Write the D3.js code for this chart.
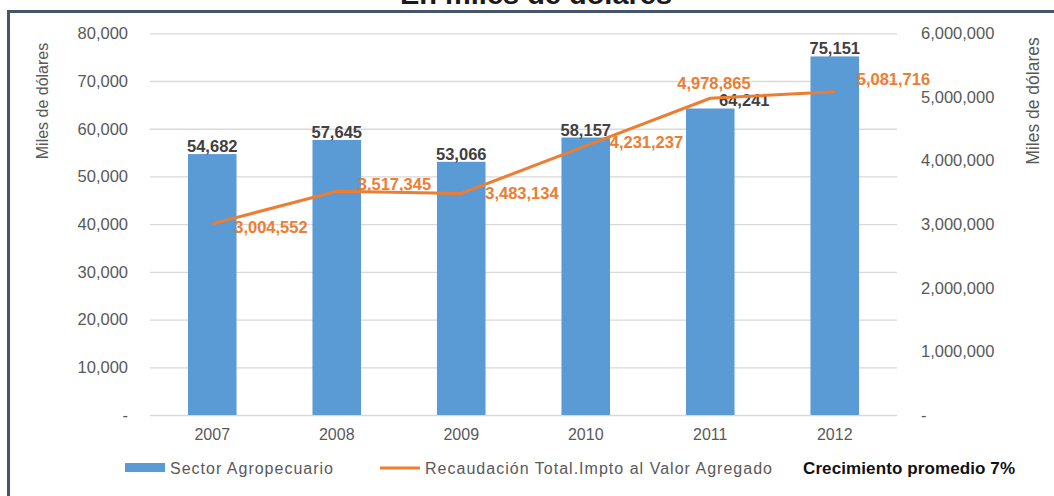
<!DOCTYPE html>
<html>
<head>
<meta charset="utf-8">
<script src="https://cdn.jsdelivr.net/npm/d3@7"></script>
<style>
  html, body { margin: 0; padding: 0; background: #fff; }
  svg { display: block; }
  text { font-family: "Liberation Sans", Arial, sans-serif; }
</style>
</head>
<body>
<svg id="chart" width="1054" height="496"></svg>
<script>
// Data
const years = ["2007", "2008", "2009", "2010", "2011", "2012"];
const sectorAgro = [54682, 57645, 53066, 58157, 64241, 75151];
const recaudacionIVA = [3004552, 3517345, 3483134, 4231237, 4978865, 5081716];
const leftTicks = [0, 10000, 20000, 30000, 40000, 50000, 60000, 70000, 80000];
const rightTicks = [0, 1000000, 2000000, 3000000, 4000000, 5000000, 6000000];

const W = 1054, H = 496;
const plot = { left: 150, right: 897, top: 33.3, bottom: 415 };

const svg = d3.select("#chart");

// Outer frame
svg.append("rect")
  .attr("x", 8.5).attr("y", 11.5)
  .attr("width", W + 20).attr("height", H + 20)
  .attr("fill", "none").attr("stroke", "#475569").attr("stroke-width", 3);

// Title (top edge of frame)
svg.append("text")
  .attr("x", 536).attr("y", 4)
  .attr("text-anchor", "middle")
  .attr("font-size", 28).attr("font-weight", "bold")
  .attr("fill", "#1a1a1a")
  .attr("textLength", 272).attr("lengthAdjust", "spacingAndGlyphs")
  .text("En miles de dólares");

// Scales
const x = d3.scaleBand().domain(years)
  .range([plot.left, plot.right])
  .paddingInner(0.61).paddingOuter(0.305);
const yL = d3.scaleLinear().domain([0, 80000]).range([plot.bottom, plot.top]);
const yR = d3.scaleLinear().domain([0, 6000000]).range([plot.bottom, plot.top]);
const cx = d => x(d) + x.bandwidth() / 2;

const fmt = d3.format(",");
const tickFmt = v => v === 0 ? "-" : fmt(v);

// Left axis with gridlines
const gL = svg.append("g")
  .attr("transform", `translate(${plot.left},0)`)
  .call(d3.axisLeft(yL).tickValues(leftTicks).tickFormat(tickFmt)
    .tickSize(-(plot.right - plot.left)).tickPadding(22));
gL.select(".domain").remove();
gL.selectAll(".tick line").attr("stroke", "#d9d9d9").attr("stroke-width", 1.3);
gL.selectAll(".tick text")
  .attr("font-family", "'Liberation Sans', Arial, sans-serif")
  .attr("font-size", 16.5).attr("fill", "#595959");

// Right axis (labels only)
const gR = svg.append("g")
  .attr("transform", `translate(${plot.right},0)`)
  .call(d3.axisRight(yR).tickValues(rightTicks).tickFormat(tickFmt)
    .tickSize(0).tickPadding(24));
gR.select(".domain").remove();
gR.selectAll(".tick text")
  .attr("font-family", "'Liberation Sans', Arial, sans-serif")
  .attr("font-size", 16.5).attr("fill", "#595959");

// Category axis
const gX = svg.append("g")
  .attr("transform", `translate(0,${plot.bottom})`)
  .call(d3.axisBottom(x).tickSize(0).tickPadding(14));
gX.select(".domain").remove();
gX.selectAll(".tick text")
  .attr("font-family", "'Liberation Sans', Arial, sans-serif")
  .attr("font-size", 16).attr("fill", "#595959");

// Axis titles
svg.append("text")
  .attr("transform", "translate(48,101) rotate(-90)")
  .attr("text-anchor", "middle")
  .attr("font-size", 16).attr("fill", "#595959")
  .text("Miles de dólares");
svg.append("text")
  .attr("transform", "translate(1039,101) rotate(-90)")
  .attr("text-anchor", "middle")
  .attr("font-size", 17.5).attr("fill", "#595959")
  .text("Miles de dólares");

// Bars
svg.append("g").selectAll("rect")
  .data(years)
  .join("rect")
  .attr("x", d => x(d))
  .attr("width", x.bandwidth())
  .attr("y", (d, i) => yL(sectorAgro[i]))
  .attr("height", (d, i) => plot.bottom - yL(sectorAgro[i]))
  .attr("fill", "#5b9bd5");

// Bar value labels (2011 nudged right to clear the line)
const barLabelDx = [0, 0, 0, 0, 34, 0];
svg.append("g").selectAll("text")
  .data(years)
  .join("text")
  .attr("x", (d, i) => cx(d) + barLabelDx[i])
  .attr("y", (d, i) => yL(sectorAgro[i]) - 2)
  .attr("text-anchor", "middle")
  .attr("font-size", 16.5).attr("font-weight", "bold")
  .attr("fill", "#404040")
  .text((d, i) => fmt(sectorAgro[i]));

// Line series
const line = d3.line()
  .x((d, i) => cx(years[i]))
  .y(d => yR(d));
svg.append("path")
  .datum(recaudacionIVA)
  .attr("d", line)
  .attr("fill", "none")
  .attr("stroke", "#ed7d31")
  .attr("stroke-width", 3)
  .attr("stroke-linejoin", "round");

// Line value labels
const lineLabelOffset = [[22, 3], [21, -7], [24, 0], [24, -4], [-33, -15], [22, -13]];
svg.append("g").selectAll("text")
  .data(recaudacionIVA)
  .join("text")
  .attr("x", (d, i) => cx(years[i]) + lineLabelOffset[i][0])
  .attr("y", (d, i) => yR(d) + lineLabelOffset[i][1])
  .attr("dy", "0.36em")
  .attr("font-size", 16.5).attr("font-weight", "bold")
  .attr("fill", "#ed7d31")
  .text(d => fmt(d));

// Legend
const lg = svg.append("g");
lg.append("rect").attr("x", 125).attr("y", 463).attr("width", 40).attr("height", 9)
  .attr("fill", "#5b9bd5");
lg.append("text").attr("x", 170).attr("y", 468).attr("dy", "0.36em")
  .attr("font-size", 16).attr("fill", "#595959")
  .attr("textLength", 163).attr("lengthAdjust", "spacing")
  .text("Sector Agropecuario");
lg.append("line").attr("x1", 380).attr("x2", 420).attr("y1", 468).attr("y2", 468)
  .attr("stroke", "#ed7d31").attr("stroke-width", 3);
lg.append("text").attr("x", 425).attr("y", 468).attr("dy", "0.36em")
  .attr("font-size", 16).attr("fill", "#595959")
  .attr("textLength", 347).attr("lengthAdjust", "spacing")
  .text("Recaudación Total.Impto al Valor Agregado");
lg.append("text").attr("x", 803).attr("y", 468).attr("dy", "0.36em")
  .attr("font-size", 17).attr("font-weight", "bold").attr("fill", "#111")
  .attr("textLength", 212).attr("lengthAdjust", "spacing")
  .text("Crecimiento promedio 7%");
</script>
</body>
</html>
